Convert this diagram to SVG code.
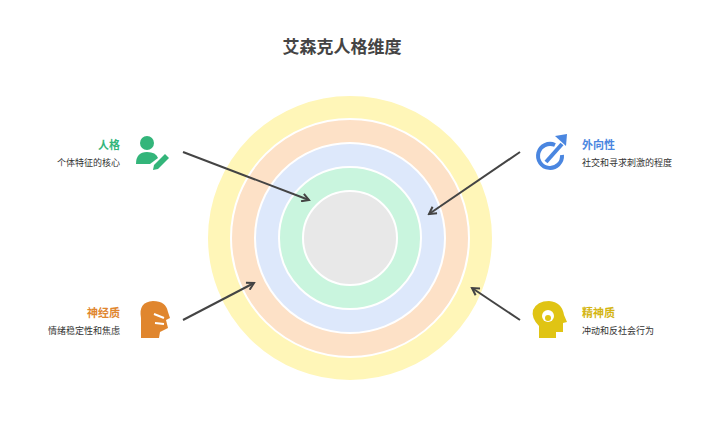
<svg xmlns="http://www.w3.org/2000/svg" width="708" height="435" viewBox="0 0 708 435">
<style>
text{font-family:"Noto Sans CJK SC",sans-serif}
.t{font-size:11px;font-weight:bold}
.d{font-size:9px;fill:#333}
.r{stroke:#fff;stroke-width:2}
.c{stroke:#444;stroke-width:2;fill:none;marker-end:url(#a)}
</style>
<defs><marker id="a" markerWidth="10" markerHeight="10" refX="8" refY="5" orient="auto" markerUnits="userSpaceOnUse"><path d="M1,1 L8,5 L1,9" fill="none" stroke="#444" stroke-width="2"/></marker></defs>
<rect width="708" height="435" fill="#fff"/>
<text x="342" y="53" text-anchor="middle" font-size="17" font-weight="bold" fill="#444">艾森克人格维度</text>
<g id="rings">
<circle class="r" cx="350" cy="238" r="143" fill="#fff6b8"/>
<circle class="r" cx="350" cy="238" r="119" fill="#fde1c7"/>
<circle class="r" cx="350" cy="238" r="95" fill="#dde8fb"/>
<circle class="r" cx="350" cy="238" r="71" fill="#c9f5de"/>
<circle class="r" cx="350" cy="238" r="47" fill="#e8e8e8"/>
</g>
<g id="connectors">
<line class="c" x1="183" y1="152" x2="309" y2="200"/>
<line class="c" x1="520" y1="152" x2="429" y2="214"/>
<line class="c" x1="183" y1="320" x2="254" y2="283"/>
<line class="c" x1="520" y1="320" x2="472" y2="288"/>
</g>
<g id="n1">
<text class="t" x="120" y="149" text-anchor="end" fill="#33b57a">人格</text>
<text class="d" x="120" y="166" text-anchor="end">个体特征的核心</text>
<circle cx="147" cy="143" r="7" fill="#33b57a"/>
<path d="M136,164 Q136,152 147,152 Q156,152 158,158 L150,164 Z" fill="#33b57a"/>
<path d="M154,165 L165,154 L169,158 L158,169 L153,170 Z" fill="#33b57a"/>
</g>
<g id="n2">
<path d="M555,145 A12,12 0 1 0 562,155" fill="none" stroke="#4a86e0" stroke-width="4"/>
<line x1="546" y1="162" x2="562" y2="144" stroke="#4a86e0" stroke-width="4"/>
<path d="M555,136 L567,134 L566,146 Z" fill="#4a86e0"/>
<text class="t" x="582" y="149" fill="#4a86e0">外向性</text>
<text class="d" x="582" y="166">社交和寻求刺激的程度</text>
</g>
<g id="n3">
<text class="t" x="120" y="317" text-anchor="end" fill="#e0862e">神经质</text>
<text class="d" x="120" y="334" text-anchor="end">情绪稳定性和焦虑</text>
<path d="M141,338 L141,318 Q138,302 153,301 Q166,301 168,312 L170,318 L166,320 L168,328 L160,332 L159,338 Z" fill="#e0862e"/>
<path d="M154,314 L164,318 M155,323 L164,324" stroke="#fff" stroke-width="2"/>
</g>
<g id="n4">
<path d="M539,338 L539,326 Q531,318 533,310 Q537,301 549,301 Q562,302 564,315 L567,322 L563,323 L563,332 L556,332 L556,338 Z" fill="#e0c414"/>
<circle cx="548" cy="316" r="6" fill="#fff"/>
<circle cx="548" cy="318" r="3" fill="#e0c414"/>
<text class="t" x="582" y="317" fill="#d4b512">精神质</text>
<text class="d" x="582" y="334">冲动和反社会行为</text>
</g>
</svg>
